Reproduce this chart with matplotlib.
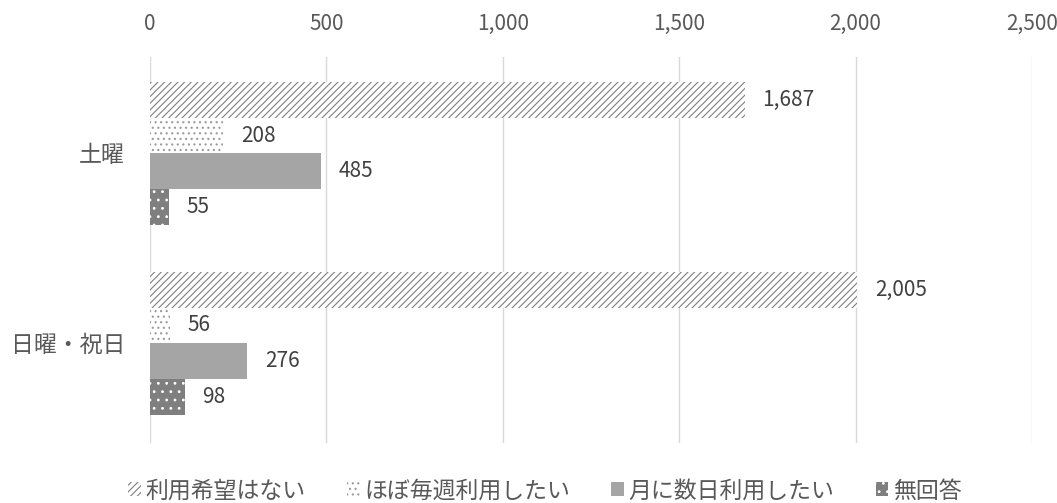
import numpy as np
import matplotlib
matplotlib.use("Agg")
import matplotlib.pyplot as plt

plt.rcParams['font.family'] = ['Noto Sans CJK JP', 'DejaVu Sans']
plt.rcParams['hatch.linewidth'] = 0.8

categories = ['土曜', '日曜・祝日']
series = ['利用希望はない', 'ほぼ毎週利用したい', '月に数日利用したい', '無回答']
values = [
    [1687, 2005],
    [208, 56],
    [485, 276],
    [55, 98],
]
xticks = [0, 500, 1000, 1500, 2000, 2500]

styles = [
    dict(facecolor='white', edgecolor='#808080', hatch='/////'),
    dict(facecolor='white', edgecolor='#9a9a9a', hatch='...'),
    dict(facecolor='#a5a5a5', edgecolor='#a5a5a5', hatch=None),
    dict(facecolor='#7f7f7f', edgecolor='white', hatch='..'),
]

fig = plt.figure(figsize=(10.57, 5.03), dpi=100)
ax = fig.add_axes([150/1057, 1-443/503, (1032-150)/1057, (443-57)/503])

h = 0.1875
y0 = np.arange(len(categories))
for i, (name, vals) in enumerate(zip(series, values)):
    ys = y0 - 0.375 + h*(i+0.5)
    ax.barh(ys, vals, height=h, linewidth=0, label=name, **styles[i])
    for y, v in zip(ys, vals):
        ax.annotate(f'{v:,}', (v, y), xytext=(12.5, 0), textcoords='offset points',
                    va='center', ha='left', fontsize=15, color='#404040')

ax.set_ylim(1.525, -0.507)
ax.set_xlim(0, 2500)
ax.set_xticks(xticks)
ax.set_xticklabels([f'{t:,}' for t in xticks])
ax.xaxis.tick_top()
ax.set_yticks(y0)
ax.set_yticklabels(categories)
ax.tick_params(axis='both', length=0, labelcolor='#595959')
ax.tick_params(axis='x', labelsize=15, pad=16)
ax.tick_params(axis='y', labelsize=16.5, pad=18)
ax.grid(axis='x', color='#d9d9d9', linewidth=1)
ax.set_axisbelow(True)
for s in ax.spines.values():
    s.set_visible(False)

leg = fig.legend(loc='center', ncol=4, bbox_to_anchor=(545/1057, 12/503), frameon=False,
                 fontsize=16.5, handlelength=0.55, handleheight=0.55, handletextpad=0.2,
                 columnspacing=1.8, borderpad=0.2)
for t in leg.get_texts():
    t.set_color('#595959')

fig.savefig('out.png', dpi=100)
